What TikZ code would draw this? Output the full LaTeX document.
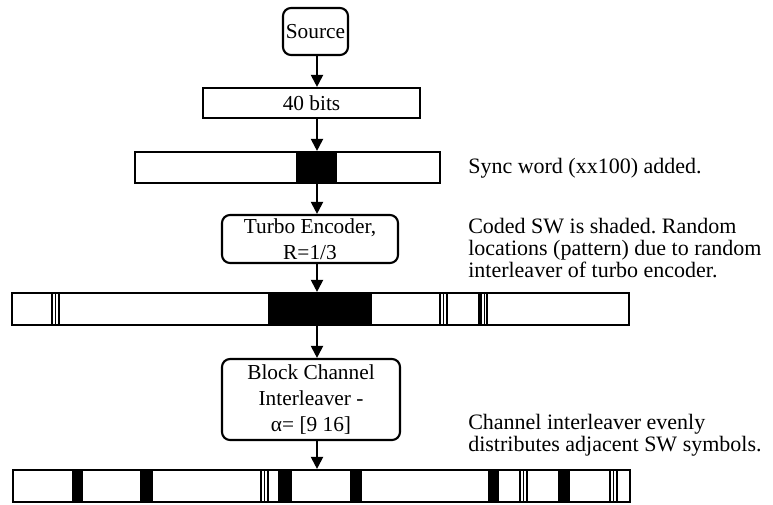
\documentclass[tikz,border=0pt]{standalone}
\usepackage{fontspec}
\setmainfont{Liberation Serif}
\usetikzlibrary{arrows.meta}
\frenchspacing
\newcommand{\tristripe}[3]{\foreach \dx in {0,3.5,7} \draw[line width=1.2pt] (#1+\dx,#2) -- (#1+\dx,#3);}
\begin{document}
\begin{tikzpicture}[x=0.75pt,y=-0.75pt,
    blk/.style={draw,line width=1.6pt,rounded corners=6pt,align=center,inner sep=1pt,font=\fontsize{16}{19.5}\selectfont},
    bar/.style={draw,line width=1.6pt,inner sep=0pt},
    flow/.style={line width=1.5pt,-{Triangle[width=9pt,length=9pt]}},
    note/.style={anchor=west,align=left,inner sep=0pt,font=\fontsize{16.5}{16.5}\selectfont}]
\useasboundingbox (0,0) rectangle (773,504);
\node[blk,minimum width=48.75pt,minimum height=35.25pt] (source) at (315.5,31.5) {Source};
\node[blk,rounded corners=0pt,minimum width=162.75pt,minimum height=22.5pt] (bits) at (311.5,103) {40 bits};
\fill (296,152) rectangle (337,183);
\node[bar,minimum width=228.75pt,minimum height=23.25pt] (syncbar) at (287.5,167.5) {};
\node[blk,minimum width=132pt,minimum height=36pt] (turbo) at (310,239) {Turbo Encoder,\\R=1/3};
\fill (268,293) rectangle (372,325);
\tristripe{52}{293}{325}
\tristripe{440}{293}{325}
\fill (478,293) rectangle (481.5,325);
\draw[line width=0.8pt] (484.5,293) -- (484.5,325);
\draw[line width=0.8pt] (487,293) -- (487,325);
\node[bar,minimum width=462.75pt,minimum height=24pt] (codedbar) at (320.5,309) {};
\node[blk,minimum width=133.5pt,minimum height=60.75pt] (chanint) at (311,399.5) {Block Channel\\Interleaver -\\α= [9 16]};
\foreach \xa/\xb in {72/83,140/153,278/292,350/362,488/499,558/570}
  \fill (\xa,470) rectangle (\xb,502);
\tristripe{261}{470}{502}
\tristripe{520}{470}{502}
\tristripe{610}{470}{502}
\node[bar,minimum width=462.75pt,minimum height=24pt] (chanbar) at (321.5,486) {};
\coordinate (axis) at (317,0);
\draw[flow] (axis |- source.south) -- (axis |- bits.north);
\draw[flow] (axis |- bits.south) -- (axis |- syncbar.north);
\draw[flow] (axis |- syncbar.south) -- (axis |- turbo.north);
\draw[flow] (axis |- turbo.south) -- (axis |- codedbar.north);
\draw[flow] (axis |- codedbar.south) -- (axis |- chanint.north);
\draw[flow] (axis |- chanint.south) -- (axis |- chanbar.north);
\node[note] (syncnote) at (468,168) {Sync word (xx100) added.};
\node[note] (codednote) at (468,248) {Coded SW is shaded. Random\\locations (pattern) due to random\\interleaver of turbo encoder.};
\node[note] (channote) at (468,435) {Channel interleaver evenly\\distributes adjacent SW symbols.};
\end{tikzpicture}
\end{document}
